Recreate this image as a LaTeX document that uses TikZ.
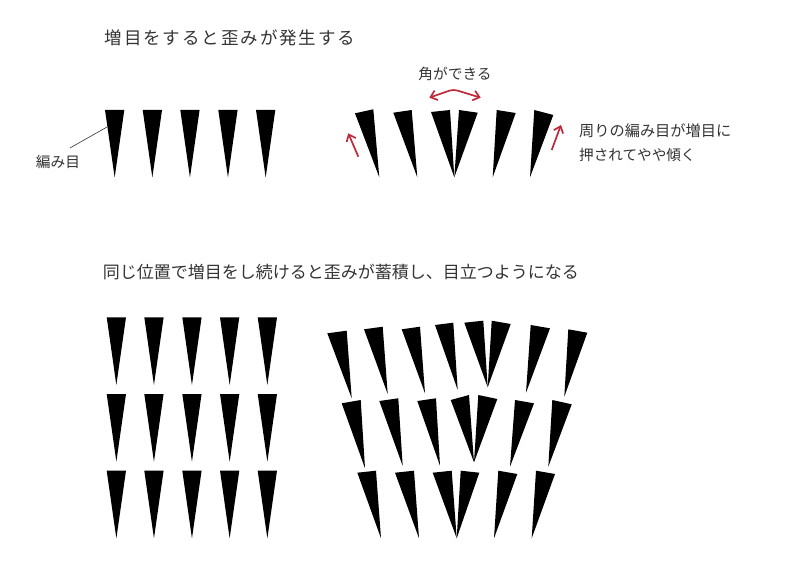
\documentclass[tikz,border=0pt]{standalone}
\usepackage{fontspec}
\setmainfont{Noto Sans CJK JP}
\usetikzlibrary{arrows.meta}
\definecolor{txt}{HTML}{333333}
\definecolor{redarr}{HTML}{BE2A3A}
\tikzset{
  stitch/.style={fill=black},
  lbl/.style={text=txt, inner sep=0pt},
  redarrow/.style={draw=redarr, line width=1.7pt, -{Straight Barb[length=6pt,width=10pt]}},
  leader/.style={draw=txt, line width=0.6pt}
}
\begin{document}
\begin{tikzpicture}[x=1pt,y=-1pt]
\useasboundingbox (0,0) rectangle (800,572);
% titles
\node[lbl, font=\fontsize{17.5}{20}\selectfont\addfontfeature{LetterSpace=11}] (t1) at (230,38.3) {増目をすると歪みが発生する};
\node[lbl, anchor=west, font=\fontsize{17}{20}\selectfont] (t2) at (102.7,271.7) {同じ位置で増目をし続けると歪みが蓄積し、目立つようになる};
% top-left row
\foreach \x in {105,142.7,180.3,218.3,256}{
  \fill[stitch] (\x,110) -- (\x+19.3,110) -- (\x+9.65,177.5) -- cycle;
}
\node[lbl, font=\fontsize{14.7}{17}\selectfont] (lab) at (58,161.7) {編み目};
\coordinate (lt) at (107,127);
\draw[leader] (70,148) -- (lt);
% top-right row
\fill[stitch] (355,113.3) -- (373.3,109.3) -- (379.3,177.3) -- cycle;
\fill[stitch] (393.3,112.7) -- (411.7,110) -- (417.3,177.3) -- cycle;
\fill[stitch] (431,112) -- (450,110) -- (454.3,177.3) -- cycle;
\fill[stitch] (459,110) -- (477.7,112.7) -- (454.3,177.3) -- cycle;
\fill[stitch] (496.7,110) -- (515.7,113) -- (492.7,177.3) -- cycle;
\fill[stitch] (534.3,110) -- (553.3,115) -- (530,177.3) -- cycle;
% red arrows
\coordinate (la0) at (358.3,156.7); \coordinate (la1) at (348.3,133.3);
\coordinate (ra0) at (551.7,150); \coordinate (ra1) at (561,125);
\draw[redarrow] (la0) -- (la1);
\draw[redarrow] (ra0) -- (ra1);
\coordinate (ca) at (429.3,97.7); \coordinate (cp) at (453.3,89.3); \coordinate (cb) at (480.7,97.7);
\draw[redarrow, {Straight Barb[length=6pt,width=10pt]}-{Straight Barb[length=6pt,width=10pt]}, rounded corners=4pt] (ca) -- (cp) -- (cb);
\node[lbl, font=\fontsize{14.7}{17}\selectfont] (corner) at (455,74) {角ができる};
\node[lbl, anchor=west, font=\fontsize{15.2}{17}\selectfont] (r1) at (579,131) {周りの編み目が増目に};
\node[lbl, anchor=west, font=\fontsize{14.6}{17}\selectfont] (r2) at (579,155) {押されてやや傾く};
% bottom-left grid
\foreach \y in {317.3,394,470.7}{
  \foreach \x in {106.7,144.3,182.3,220,257.7}{
    \fill[stitch] (\x,\y) -- (\x+19.3,\y) -- (\x+9.65,\y+67.7) -- cycle;
  }
}
% bottom-right grid row 1
\fill[stitch] (327.3,333.3) -- (346.7,330.7) -- (351.7,398.3) -- cycle;
\fill[stitch] (364,329.3) -- (382.7,326.7) -- (387.7,394) -- cycle;
\fill[stitch] (401.7,329.3) -- (420,326.7) -- (425,393.3) -- cycle;
\fill[stitch] (435,325) -- (453.3,322.7) -- (457.7,390) -- cycle;
\fill[stitch] (464.3,322.7) -- (483.3,320.7) -- (487.7,387.3) -- cycle;
\fill[stitch] (491.7,320.7) -- (510.7,324) -- (487.7,387.3) -- cycle;
\fill[stitch] (530.7,325) -- (550,328.3) -- (526,392.7) -- cycle;
\fill[stitch] (568.3,329.3) -- (587.3,332.7) -- (564.3,396.7) -- cycle;
% row 2
\fill[stitch] (341.7,403.3) -- (360.7,400) -- (365,468.3) -- cycle;
\fill[stitch] (379.3,401) -- (398.3,398.3) -- (402.7,466) -- cycle;
\fill[stitch] (417.3,401) -- (436,398.3) -- (440,465.7) -- cycle;
\fill[stitch] (450.7,400) -- (469,395) -- (474,462.3) -- cycle;
\fill[stitch] (478.3,395) -- (497.3,399) -- (474,462.3) -- cycle;
\fill[stitch] (515,400) -- (534,403.3) -- (510,466.7) -- cycle;
\fill[stitch] (552.3,400) -- (571.7,404.3) -- (548.3,466.7) -- cycle;
% row 3
\fill[stitch] (357.3,472.7) -- (376,470.7) -- (381,538.3) -- cycle;
\fill[stitch] (395,472.7) -- (414,470.7) -- (419,538.3) -- cycle;
\fill[stitch] (432.7,472.7) -- (451.7,470.7) -- (456.7,538.3) -- cycle;
\fill[stitch] (460.7,470.7) -- (479.3,472.7) -- (456.7,538.3) -- cycle;
\fill[stitch] (498.3,470.7) -- (517.3,474) -- (494,538.3) -- cycle;
\fill[stitch] (536,470.7) -- (555,474) -- (531.7,538.3) -- cycle;
\end{tikzpicture}
\end{document}
